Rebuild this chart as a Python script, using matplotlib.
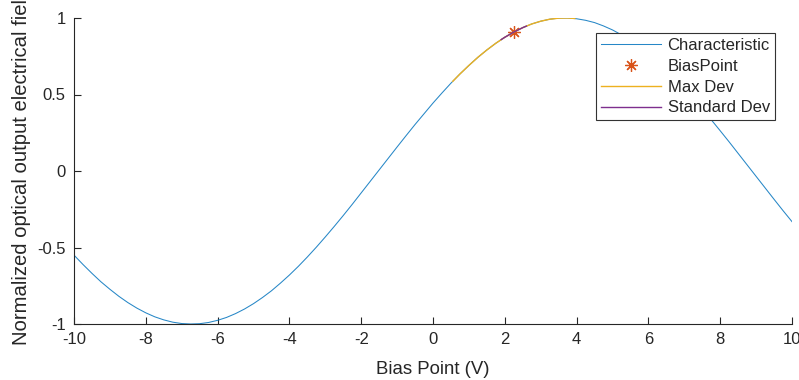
import matplotlib
matplotlib.use("Agg")
import matplotlib.pyplot as plt

# characteristic curve (0.25 V steps)
bias_v = [-10.0, -9.75, -9.5, -9.25, -9.0, -8.75, -8.5, -8.25, -8.0, -7.75,
          -7.5, -7.25, -7.0, -6.75, -6.5, -6.25, -6.0, -5.75, -5.5, -5.25,
          -5.0, -4.75, -4.5, -4.25, -4.0, -3.75, -3.5, -3.25, -3.0, -2.75,
          -2.5, -2.25, -2.0, -1.75, -1.5, -1.25, -1.0, -0.75, -0.5, -0.25,
          0.0, 0.25, 0.5, 0.75, 1.0, 1.25, 1.5, 1.75, 2.0, 2.25,
          2.5, 2.75, 3.0, 3.25, 3.5, 3.75, 4.0, 4.25, 4.5, 4.75,
          5.0, 5.25, 5.5, 5.75, 6.0, 6.25, 6.5, 6.75, 7.0, 7.25,
          7.5, 7.75, 8.0, 8.25, 8.5, 8.75, 9.0, 9.25, 9.5, 9.75, 10.0]
field = [-0.550, -0.611, -0.669, -0.724, -0.773, -0.819, -0.860, -0.896, -0.927, -0.953,
         -0.973, -0.988, -0.997, -1.000, -0.998, -0.990, -0.976, -0.957, -0.932, -0.902,
         -0.867, -0.827, -0.783, -0.733, -0.680, -0.623, -0.562, -0.498, -0.431, -0.362,
         -0.291, -0.218, -0.143, -0.068, 0.007, 0.082, 0.157, 0.231, 0.304, 0.374,
         0.444, 0.510, 0.574, 0.634, 0.690, 0.743, 0.791, 0.835, 0.874, 0.908,
         0.937, 0.961, 0.979, 0.992, 0.999, 1.000, 0.995, 0.985, 0.970, 0.948,
         0.922, 0.890, 0.853, 0.811, 0.765, 0.714, 0.659, 0.600, 0.538, 0.473,
         0.406, 0.335, 0.263, 0.190, 0.115, 0.040, -0.035, -0.110, -0.185, -0.259, -0.331]

bias_point_x = [2.25]
bias_point_y = [0.91]

max_dev_x = [0.55, 0.75, 1.0, 1.25, 1.5, 1.75, 2.0, 2.25, 2.5, 2.75, 3.0, 3.25, 3.5, 3.75, 3.95]
max_dev_y = [0.586, 0.634, 0.690, 0.743, 0.791, 0.835, 0.874, 0.908, 0.937, 0.961,
             0.979, 0.992, 0.999, 1.000, 0.997]

std_dev_x = [1.9, 2.0, 2.25, 2.5, 2.6]
std_dev_y = [0.859, 0.874, 0.908, 0.937, 0.947]

x_ticks = [-10, -8, -6, -4, -2, 0, 2, 4, 6, 8, 10]
y_ticks = [-1, -0.5, 0, 0.5, 1]
y_tick_labels = ["-1", "-0.5", "0", "0.5", "1"]

plt.rcParams["font.family"] = ["Liberation Sans", "DejaVu Sans"]
plt.rcParams["axes.unicode_minus"] = False

fig = plt.figure(figsize=(7.99, 3.80), dpi=100)
ax = fig.add_axes([74 / 799, 1 - 324 / 380, (792 - 74) / 799, (324 - 18) / 380])

ax.plot(bias_v, field, color="#0072BD", lw=0.75, alpha=0.85, label="Characteristic")
ax.plot(bias_point_x, bias_point_y, ls="none", marker=(8, 2, 0), ms=9,
        mec="#D95319", mew=0.9, label="BiasPoint")
ax.plot(max_dev_x, max_dev_y, color="#EDB120", lw=1.0, label="Max Dev")
ax.plot(std_dev_x, std_dev_y, color="#7E2F8E", lw=1.0, label="Standard Dev")

ax.set_xlim(-10, 10)
ax.set_ylim(-1, 1)
ax.set_xticks(x_ticks)
ax.set_xticklabels([str(t) for t in x_ticks])
ax.set_yticks(y_ticks)
ax.set_yticklabels(y_tick_labels)

dark = "#262626"
for side in ["top", "right"]:
    ax.spines[side].set_visible(False)
for side in ["left", "bottom"]:
    ax.spines[side].set_color(dark)
    ax.spines[side].set_linewidth(0.8)
ax.tick_params(direction="in", length=5, width=0.8, colors=dark,
               labelsize=12, pad=6)

ax.set_xlabel("Bias Point (V)", fontsize=13.4, color=dark, labelpad=10)
ax.set_ylabel("Normalized optical output electrical field", fontsize=14.6,
              color=dark)
ax.yaxis.set_label_coords(-0.060, 0.515)

leg = ax.legend(loc="upper right", bbox_to_anchor=(0.976, 0.951), fontsize=12,
                handlelength=3.6, handletextpad=0.42, labelspacing=0.35,
                borderpad=0.3, borderaxespad=0, fancybox=False, framealpha=1)
leg.get_frame().set_edgecolor("#333333")
leg.get_frame().set_linewidth(0.8)
for t in leg.get_texts():
    t.set_color(dark)

fig.savefig("out.png", dpi=100)
